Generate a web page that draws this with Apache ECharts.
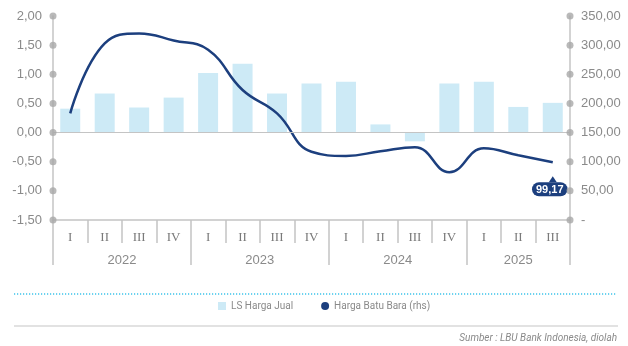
<!DOCTYPE html>
<html>
<head>
<meta charset="utf-8">
<script src="https://cdn.jsdelivr.net/npm/echarts@6/dist/echarts.min.js"></script>
<style>
  html, body { margin: 0; padding: 0; background: #ffffff; }
  #chart { width: 628px; height: 346px; }
</style>
</head>
<body>
<div id="chart"></div>
<script>
// Quarterly categories
const quarters = ['I', 'II', 'III', 'IV', 'I', 'II', 'III', 'IV', 'I', 'II', 'III', 'IV', 'I', 'II', 'III'];
const years = ['2022', '2023', '2024', '2025'];
const quartersPerYear = [4, 4, 4, 3];

// LS Harga Jual (left axis)
const lsHargaJual = [0.41, 0.67, 0.43, 0.60, 1.02, 1.18, 0.67, 0.84, 0.87, 0.14, -0.15, 0.84, 0.87, 0.44, 0.51];
// Harga Batu Bara (right axis)
const hargaBatuBara = [183, 303, 320, 308, 292, 223, 183, 117, 110, 118, 125, 82, 123, 111, 99.17];

// Axis ticks
const leftTicks = [2.0, 1.5, 1.0, 0.5, 0.0, -0.5, -1.0, -1.5];
const rightMin = 0, rightMax = 350, rightStep = 50;

const navy = '#1c3f7e';
const barBlue = '#cdeaf6';
const axisGrey = '#c4c4c4';
const textGrey = '#8a8a8a';

const fmt = v => v.toFixed(2).replace('.', ',');

// Year axis uses half-quarter points so labels sit at each year's middle
const halfSlots = quarters.length * 2 + 1;
const yearSlots = new Array(halfSlots).fill('');
const yearBoundaries = new Set([0]);
let start = 0;
years.forEach((y, i) => {
  const n = quartersPerYear[i];
  yearSlots[start * 2 + n] = y;
  start += n;
  yearBoundaries.add(start * 2);
});

// Dots marking each tick on both vertical axes
const axisDots = [];
leftTicks.forEach(v => { axisDots.push([0, v]); axisDots.push([1, v]); });

const lastIdx = hargaBatuBara.length - 1;

const chart = echarts.init(document.getElementById('chart'), null, { renderer: 'canvas' });
chart.setOption({
  animation: false,
  backgroundColor: '#ffffff',
  grid: { left: 53, right: 58, top: 16, bottom: 126 },
  legend: {
    bottom: 30,
    left: 213,
    itemWidth: 8,
    itemHeight: 8,
    itemGap: 28,
    textStyle: { color: textGrey, fontSize: 10, fontFamily: 'Roboto' },
    data: [
      { name: 'LS Harga Jual', icon: 'rect' },
      { name: 'Harga Batu Bara (rhs)', icon: 'circle' }
    ]
  },
  xAxis: [
    {
      type: 'category',
      data: quarters,
      position: 'bottom',
      axisLine: { onZero: false, lineStyle: { color: axisGrey, width: 1.5 } },
      axisTick: { show: true, interval: 0, length: 23, lineStyle: { color: axisGrey, width: 1.5 } },
      axisLabel: { interval: 0, color: '#7a7a7a', fontSize: 13, fontFamily: 'Liberation Serif', margin: 11 },
      splitLine: { show: false }
    },
    {
      type: 'category',
      data: yearSlots,
      boundaryGap: false,
      position: 'bottom',
      axisLine: { show: false, onZero: false },
      axisTick: {
        show: true,
        length: 45,
        interval: (i) => yearBoundaries.has(i),
        lineStyle: { color: axisGrey, width: 1.5 }
      },
      axisLabel: {
        interval: (i, v) => v !== '',
        color: textGrey,
        fontSize: 13,
        fontFamily: 'Liberation Sans',
        margin: 34
      },
      splitLine: { show: false }
    },
    { type: 'value', min: 0, max: 1, show: false }
  ],
  yAxis: [
    {
      type: 'value',
      min: -1.5,
      max: 2,
      interval: 0.5,
      axisLine: { show: true, lineStyle: { color: axisGrey, width: 1.5 } },
      axisTick: { show: false },
      splitLine: { show: false },
      axisLabel: { formatter: v => fmt(v), color: textGrey, fontSize: 13, fontFamily: 'Liberation Sans', margin: 11 }
    },
    {
      type: 'value',
      min: rightMin,
      max: rightMax,
      interval: rightStep,
      position: 'right',
      axisLine: { show: true, lineStyle: { color: axisGrey, width: 1.5 } },
      axisTick: { show: false },
      splitLine: { show: false },
      axisLabel: { formatter: v => (v === 0 ? '-' : fmt(v)), color: textGrey, fontSize: 13, fontFamily: 'Liberation Sans', margin: 11 }
    }
  ],
  series: [
    {
      name: 'LS Harga Jual',
      type: 'bar',
      xAxisIndex: 0,
      yAxisIndex: 0,
      data: lsHargaJual,
      barWidth: '58%',
      itemStyle: { color: barBlue },
      markLine: {
        silent: true,
        symbol: 'none',
        label: { show: false },
        lineStyle: { color: axisGrey, type: 'solid', width: 1.2 },
        data: [{ yAxis: 0 }]
      }
    },
    {
      name: 'Harga Batu Bara (rhs)',
      type: 'line',
      xAxisIndex: 0,
      yAxisIndex: 1,
      data: hargaBatuBara,
      smooth: 0.45,
      showSymbol: false,
      itemStyle: { color: navy },
      lineStyle: { color: navy, width: 2.5 },
      markPoint: {
        symbol: 'triangle',
        symbolSize: [8, 6],
        symbolOffset: [0, 17],
        itemStyle: { color: navy },
        label: {
          show: true,
          position: 'bottom',
          distance: 0,
          offset: [-3, 0],
          formatter: p => fmt(p.value),
          color: '#ffffff',
          fontWeight: 'bold',
          fontSize: 11,
          fontFamily: 'Liberation Sans',
          backgroundColor: navy,
          borderRadius: 7,
          padding: [2, 4, 1, 4]
        },
        data: [{ coord: [lastIdx, hargaBatuBara[lastIdx]], value: hargaBatuBara[lastIdx] }]
      }
    },
    {
      name: 'axisDots',
      type: 'scatter',
      xAxisIndex: 2,
      yAxisIndex: 0,
      data: axisDots,
      symbolSize: 7,
      clip: false,
      silent: true,
      z: 5,
      itemStyle: { color: '#a8a8a8' }
    }
  ],
  graphic: [
    {
      type: 'line',
      shape: { x1: 14, y1: 294, x2: 617, y2: 294 },
      style: { stroke: '#3cc3ea', lineWidth: 1.3, lineDash: [1.2, 1.8] }
    },
    {
      type: 'line',
      shape: { x1: 14, y1: 326, x2: 618, y2: 326 },
      style: { stroke: '#d8d8d8', lineWidth: 1.5 }
    },
    {
      type: 'text',
      right: 11,
      top: 333,
      style: {
        text: 'Sumber : LBU Bank Indonesia, diolah',
        fill: textGrey,
        font: 'italic 10px Roboto'
      }
    }
  ]
});
</script>
</body>
</html>
